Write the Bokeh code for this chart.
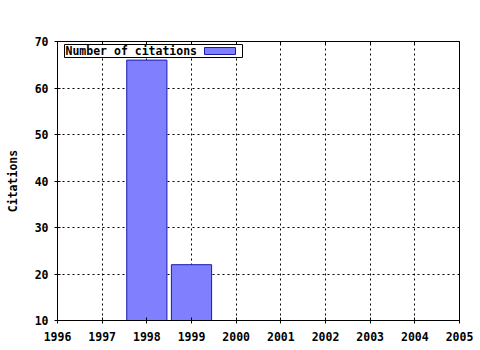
from bokeh.plotting import figure
from bokeh.models import (Range1d, LinearAxis, SingleIntervalTicker, FixedTicker,
                          CustomJSTickFormatter, BoxAnnotation, Label)
from bokeh.embed import file_html
from bokeh.resources import INLINE

years = [1998, 1999]
citations = [66, 22]
x_ticks = [1996, 1997, 1998, 1999, 2000, 2001, 2002, 2003, 2004, 2005]
y_ticks = [10, 20, 30, 40, 50, 60, 70]
series_name = "Number of citations"
y_title = "Citations"

FONT = "DejaVu Sans Mono"
FS = "11.5px"

p = figure(width=480, height=350, output_backend="svg", toolbar_location=None,
           x_range=Range1d(1996, 2005), y_range=Range1d(10, 70),
           x_axis_type=None, y_axis_type=None)
p.min_border = 0
p.min_border_left = 57
p.min_border_right = 21
p.min_border_top = 41
p.min_border_bottom = 30
p.background_fill_color = "white"
p.border_fill_color = "white"
p.outline_line_color = "black"
p.outline_line_width = 1

xt = FixedTicker(ticks=x_ticks, num_minor_ticks=4)
yt = FixedTicker(ticks=y_ticks, num_minor_ticks=0)

xb = LinearAxis(ticker=xt)
xb.major_tick_in = 3
xb.major_tick_out = 3
xb.minor_tick_in = 3
xb.minor_tick_out = 0
xb.major_label_standoff = 8
xb.major_label_text_font = FONT
xb.major_label_text_font_style = "bold"
xb.major_label_text_font_size = FS
xb.major_label_text_color = "black"
xb.axis_line_color = "black"
p.add_layout(xb, "below")

xtop = LinearAxis(ticker=xt, formatter=CustomJSTickFormatter(code="return ''"))
xtop.major_tick_in = 3
xtop.major_tick_out = 0
xtop.minor_tick_in = 3
xtop.minor_tick_out = 0
xtop.major_label_text_font_size = "1px"
xtop.axis_line_color = "black"
p.add_layout(xtop, "above")

yl = LinearAxis(ticker=yt, axis_label=y_title)
yl.major_tick_in = 3
yl.major_tick_out = 3
yl.minor_tick_line_color = None
yl.major_label_standoff = 6
yl.major_label_text_font = FONT
yl.major_label_text_font_style = "bold"
yl.major_label_text_font_size = FS
yl.major_label_text_color = "black"
yl.axis_label_text_font = FONT
yl.axis_label_text_font_style = "bold"
yl.axis_label_text_font_size = FS
yl.axis_label_text_color = "black"
yl.axis_label_standoff = 12
yl.axis_line_color = "black"
p.add_layout(yl, "left")

p.xgrid.visible = False
p.ygrid.visible = False
from bokeh.models import Grid
p.add_layout(Grid(dimension=0, ticker=xt, grid_line_color="black",
                  grid_line_dash="2 3", grid_line_width=1))
p.add_layout(Grid(dimension=1, ticker=yt, grid_line_color="black",
                  grid_line_dash="2 3", grid_line_width=1))

p.vbar(x=years, top=citations, bottom=10, width=0.9,
       fill_color="#8080ff", line_color="#1a1ab0", line_width=1)

# legend (label text followed by swatch)
p.add_layout(BoxAnnotation(left=7, right=185, top=276, bottom=263,
                           left_units="screen", right_units="screen",
                           top_units="screen", bottom_units="screen",
                           fill_color="white", fill_alpha=1,
                           line_color="black", line_width=1, line_alpha=1))
p.add_layout(BoxAnnotation(left=147, right=178, top=273, bottom=266,
                           left_units="screen", right_units="screen",
                           top_units="screen", bottom_units="screen",
                           fill_color="#8080ff", fill_alpha=1,
                           line_color="#1a1ab0", line_width=1, line_alpha=1))
p.add_layout(Label(x=8, y=269.5, x_units="screen", y_units="screen",
                   text=series_name, text_font=FONT, text_font_style="bold",
                   text_font_size=FS, text_color="black",
                   text_baseline="middle", text_align="left"))

open("out.html", "w").write(file_html(p, INLINE))
